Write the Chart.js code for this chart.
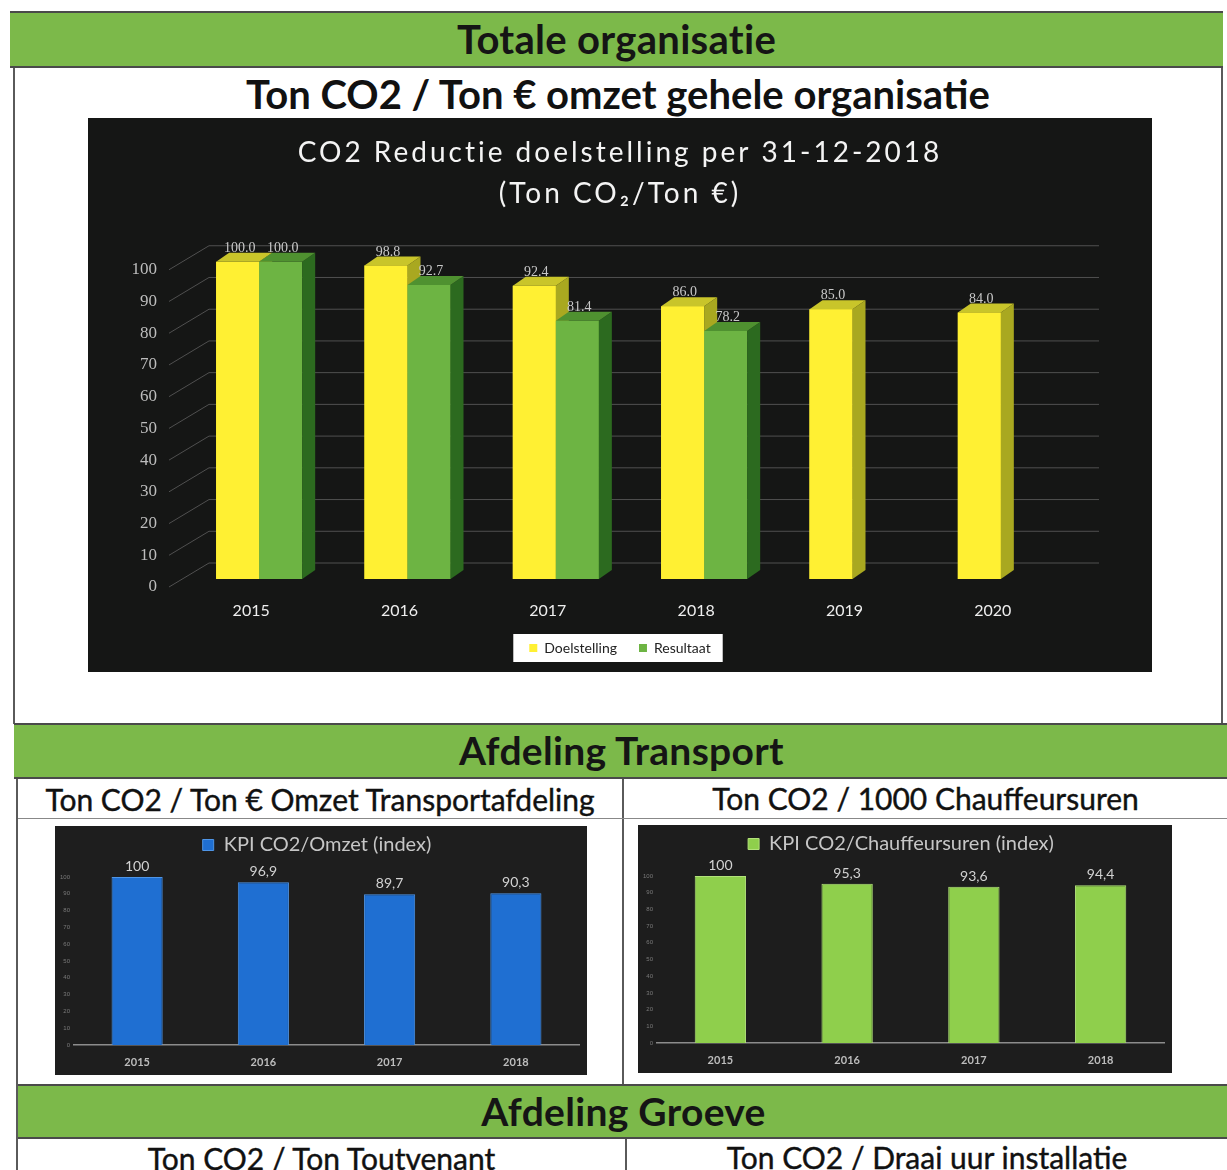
<!DOCTYPE html>
<html>
<head>
<meta charset="utf-8">
<script src="https://cdn.jsdelivr.net/npm/chart.js@4.4.1/dist/chart.umd.min.js"></script>
<style>
  body { margin: 0; background: #fff; font-family: Lato, "Open Sans", sans-serif; }
  #page { position: relative; width: 1227px; height: 1170px; overflow: hidden; background: #fff; }
  .band {
    position: absolute; box-sizing: border-box; background: #7cb94a;
    border-top: 2px solid #4a4a4a; border-bottom: 2px solid #4a4a4a;
    text-align: center; font-weight: 700; color: #151515;
    font-size: 39px; letter-spacing: 0.3px;
  }
  .sub { position: absolute; text-align: center; color: #111; white-space: nowrap;
         font-size: 30px; line-height: 40px; -webkit-text-stroke: 0.4px #111; }
  .line { position: absolute; background: #5a5a5a; }
  .box { position: absolute; }
  .box canvas { display: block; }
</style>
</head>
<body>
<div id="page">
  <div class="band" style="left:10px; top:11px; width:1213px; height:57px; line-height:52px; font-size:40px;">Totale organisatie</div>
  <div class="line" style="left:13px; top:68px; width:2px; height:656px;"></div>
  <div class="line" style="left:1221px; top:68px; width:2px; height:656px;"></div>
  <div class="sub" style="left:15px; top:70px; width:1206px; font-size:40px; line-height:48px; font-weight:700; -webkit-text-stroke:0;">Ton CO2 / Ton € omzet gehele organisatie</div>

  <div class="box" style="left:88px; top:118px; width:1064px; height:554px; background:#151615;">
    <canvas id="total-chart" width="1064" height="554"></canvas>
  </div>

  <div class="band" style="left:14px; top:723px; width:1215px; height:56px; line-height:51px;">Afdeling Transport</div>
  <div class="line" style="left:16px; top:779px; width:2px; height:391px;"></div>
  <div class="line" style="left:622px; top:779px; width:2px; height:306px;"></div>
  <div class="sub" style="left:18px; top:779px; width:604px;">Ton CO2 / Ton € Omzet Transportafdeling</div>
  <div class="sub" style="left:624px; top:778px; width:603px;">Ton CO2 / 1000 Chauffeursuren</div>
  <div class="line" style="left:18px; top:818px; width:1209px; height:1px; background:#888;"></div>

  <div class="box" style="left:55px; top:826px; width:532px; height:249px; background:#1e1e1e;">
    <canvas id="omzet-chart" width="532" height="249"></canvas>
  </div>
  <div class="box" style="left:638px; top:825px; width:534px; height:248px; background:#1d1d1d;">
    <canvas id="chauffeur-chart" width="534" height="248"></canvas>
  </div>

  <div class="band" style="left:18px; top:1084px; width:1211px; height:55px; line-height:50px;">Afdeling Groeve</div>
  <div class="line" style="left:625px; top:1139px; width:2px; height:31px;"></div>
  <div class="sub" style="left:18px; top:1138px; width:607px;">Ton CO2 / Ton Toutvenant</div>
  <div class="sub" style="left:627px; top:1137px; width:600px;">Ton CO2 / Draai uur installatie</div>
</div>

<script>
// Totale organisatie
const years = ["2015", "2016", "2017", "2018", "2019", "2020"];
const doelstelling = [100.0, 98.8, 92.4, 86.0, 85.0, 84.0];
const resultaat = [100.0, 92.7, 81.4, 78.2, null, null];
const yMax = 100;
const yStep = 10;

// Afdeling Transport
const transportYears = ["2015", "2016", "2017", "2018"];
const kpiOmzet = [100, 96.9, 89.7, 90.3];
const kpiChauffeursuren = [100, 95.3, 93.6, 94.4];

// chart title in the scan is spaced out
const spacedTitle = {
    id: 'spacedTitle',
    beforeDraw(chart, args, opts) {
        const t = chart.titleBlock;
        if (!t || t._spaced) return;
        const draw = t.draw.bind(t);
        t.draw = function () {
            this.ctx.save();
            this.ctx.letterSpacing = opts.spacing;
            draw();
            this.ctx.restore();
        };
        t._spaced = true;
    }
};

// white box behind the legend
const legendBox = {
    id: 'legendBox',
    beforeDraw(chart, args, opts) {
        const boxes = chart.legend && chart.legend.legendHitBoxes;
        if (!boxes || !boxes.length) return;
        const left = Math.min(...boxes.map(b => b.left)) - opts.padLeft;
        const right = Math.max(...boxes.map(b => b.left + b.width)) + opts.padRight;
        const top = Math.min(...boxes.map(b => b.top)) - opts.padY;
        const bottom = Math.max(...boxes.map(b => b.top + b.height)) + opts.padY;
        chart.ctx.save();
        chart.ctx.fillStyle = opts.color;
        chart.ctx.fillRect(left, top, right - left, bottom - top);
        chart.ctx.restore();
    }
};

// fake 3D: perspective grid, side/top faces, value labels
const bar3d = {
    id: 'bar3d',
    beforeDatasetsDraw(chart, args, opts) {
        const ctx = chart.ctx;
        const a = chart.chartArea;
        const y = chart.scales.y;
        ctx.save();
        ctx.strokeStyle = opts.gridColor;
        ctx.lineWidth = 1;
        y.ticks.forEach(t => {
            const py = y.getPixelForValue(t.value);
            ctx.beginPath();
            ctx.moveTo(a.left - 8, py);
            ctx.lineTo(a.left + opts.gridDx, py - opts.gridDy);
            ctx.lineTo(a.right + opts.gridDx, py - opts.gridDy);
            ctx.stroke();
        });
        ctx.restore();
        ctx.save();
        ctx.translate(opts.shiftX, -opts.shiftY);
    },
    afterDatasetsDraw(chart, args, opts) {
        const ctx = chart.ctx;
        const dx = opts.dx, dy = opts.dy;
        chart.data.datasets.forEach((ds, d) => {
            const faces = opts.faces[d];
            chart.getDatasetMeta(d).data.forEach((bar, i) => {
                if (ds.data[i] == null) return;
                const { x, y, base, width } = bar.getProps(['x', 'y', 'base', 'width'], true);
                const l = x - width / 2, r = x + width / 2;
                bar.draw(ctx);
                ctx.fillStyle = faces.side;
                ctx.beginPath();
                ctx.moveTo(r, y); ctx.lineTo(r + dx, y - dy);
                ctx.lineTo(r + dx, base - dy); ctx.lineTo(r, base);
                ctx.closePath(); ctx.fill();
                ctx.fillStyle = faces.top;
                ctx.beginPath();
                ctx.moveTo(l, y); ctx.lineTo(l + dx, y - dy);
                ctx.lineTo(r + dx, y - dy); ctx.lineTo(r, y);
                ctx.closePath(); ctx.fill();
            });
        });
        ctx.font = opts.labelFont;
        ctx.fillStyle = opts.labelColor;
        ctx.textAlign = 'center';
        ctx.textBaseline = 'alphabetic';
        chart.data.datasets.forEach((ds, d) => {
            chart.getDatasetMeta(d).data.forEach((bar, i) => {
                if (ds.data[i] == null) return;
                ctx.fillText(ds.data[i].toFixed(1), bar.x + 2, bar.y - dy - 1);
            });
        });
        ctx.restore();
    }
};

// value labels for the transport charts
const kpiLabels = {
    id: 'kpiLabels',
    afterDatasetsDraw(chart, args, opts) {
        const ctx = chart.ctx;
        ctx.save();
        ctx.font = opts.font;
        ctx.fillStyle = opts.color;
        ctx.textAlign = 'center';
        ctx.textBaseline = 'alphabetic';
        const ds = chart.data.datasets[0];
        chart.getDatasetMeta(0).data.forEach((bar, i) => {
            const v = ds.data[i];
            const txt = Number.isInteger(v) ? String(v) : v.toFixed(1).replace('.', ',');
            ctx.fillText(txt, bar.x, bar.y - 6);
        });
        ctx.restore();
    }
};

// empty axis used only to reserve room
function spacer(position, size) {
    const horizontal = position === 'top' || position === 'bottom';
    return {
        position: position,
        type: horizontal ? 'category' : 'linear',
        display: true,
        grid: { display: false, drawTicks: false },
        border: { display: false },
        ticks: { display: false },
        afterFit(scale) {
            if (horizontal) scale.height = size; else scale.width = size;
        }
    };
}

function displayTotalChart() {
    const ctx = document.getElementById('total-chart').getContext('2d');
    new Chart(ctx, {
        type: 'bar',
        data: {
            labels: years,
            datasets: [{
                label: 'Doelstelling',
                data: doelstelling,
                backgroundColor: '#fff033',
                borderWidth: 0,
            }, {
                label: 'Resultaat',
                data: resultaat,
                backgroundColor: '#6db443',
                borderWidth: 0,
            }]
        },
        plugins: [spacedTitle, legendBox, bar3d],
        options: {
            responsive: false,
            animation: false,
            layout: { padding: { left: 0, right: 0, top: 0, bottom: 7 } },
            datasets: { bar: { categoryPercentage: 0.58, barPercentage: 1 } },
            plugins: {
                title: {
                    display: true,
                    text: ['CO2 Reductie doelstelling per 31-12-2018', '(Ton CO\u2082/Ton \u20ac)'],
                    color: '#f4f4f4',
                    font: { family: 'Lato', size: 28, weight: 'normal', lineHeight: 1.46 },
                    padding: { top: 15, bottom: 55 }
                },
                spacedTitle: { spacing: '3px' },
                legend: {
                    position: 'bottom',
                    labels: {
                        color: '#222',
                        font: { family: 'Lato', size: 14 },
                        boxWidth: 8,
                        boxHeight: 8,
                        padding: 22
                    }
                },
                legendBox: { color: '#ffffff', padLeft: 16, padRight: 12, padY: 7 },
                bar3d: {
                    dx: 13, dy: 9,
                    shiftX: 8, shiftY: 8,
                    gridDx: 32, gridDy: 24,
                    gridColor: '#505050',
                    labelFont: '14px "Liberation Serif"',
                    labelColor: '#c8c8c8',
                    faces: [
                        { top: '#c9c52a', side: '#a9a820' },
                        { top: '#4f9130', side: '#2c6a1f' }
                    ]
                },
                tooltip: { enabled: false }
            },
            scales: {
                x: {
                    grid: { display: false, drawTicks: false },
                    border: { display: false },
                    ticks: { color: '#eeeeee', font: { family: 'Lato', size: 16 }, padding: 14 },
                    afterFit(scale) { scale.height = 32; }
                },
                y: {
                    min: 0,
                    max: yMax,
                    grid: { display: false, drawTicks: false },
                    border: { display: false },
                    ticks: { stepSize: yStep, color: '#bdbdbd', font: { family: 'Liberation Serif', size: 17 }, padding: 20 },
                    afterFit(scale) { scale.width = 89; }
                },
                yBack: spacer('right', 85)
            }
        }
    });
}

function displayKpiChart(canvasId, label, values, color, edge) {
    const ctx = document.getElementById(canvasId).getContext('2d');
    new Chart(ctx, {
        type: 'bar',
        data: {
            labels: transportYears,
            datasets: [{
                label: label,
                data: values,
                backgroundColor: color,
                borderColor: edge,
                borderWidth: 1,
                barPercentage: 0.405,
                categoryPercentage: 1
            }]
        },
        plugins: [kpiLabels],
        options: {
            responsive: false,
            animation: false,
            layout: { padding: { left: 0, right: 8, top: 0, bottom: 5 } },
            plugins: {
                legend: {
                    position: 'top',
                    labels: {
                        color: '#c6c6c6',
                        font: { family: 'Lato', size: 20 },
                        boxWidth: 11,
                        boxHeight: 11,
                        padding: 9
                    }
                },
                kpiLabels: { font: '14px Lato', color: '#d2d2d2' },
                tooltip: { enabled: false }
            },
            scales: {
                x: {
                    grid: { display: false, drawTicks: false },
                    border: { color: '#8c8c8c', width: 1.5 },
                    ticks: { color: '#bdbdbd', font: { family: 'Lato', size: 11, weight: 'bold' }, padding: 11 },
                    afterFit(scale) { scale.height = 25; }
                },
                xTop: spacer('top', 12),
                y: {
                    min: 0,
                    max: 100,
                    grid: { display: false, drawTicks: false },
                    border: { display: false },
                    ticks: { stepSize: 10, color: '#7a7a7a', font: { size: 6 }, padding: 4 },
                    afterFit(scale) { scale.width = 19; }
                }
            }
        }
    });
}

function initCharts() {
    displayTotalChart();
    displayKpiChart('omzet-chart', 'KPI CO2/Omzet (index)', kpiOmzet, '#1f6fd2', '#4f95e6');
    displayKpiChart('chauffeur-chart', 'KPI CO2/Chauffeursuren (index)', kpiChauffeursuren, '#8fcf4c', '#b2e27a');
}

window.addEventListener('load', initCharts);
</script>
</body>
</html>
